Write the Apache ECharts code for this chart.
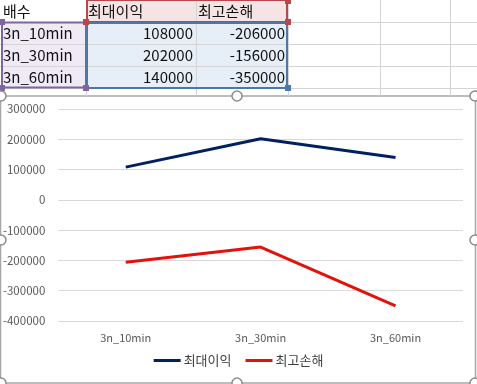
<!DOCTYPE html>
<html><head><meta charset="utf-8">
<script src="https://cdn.jsdelivr.net/npm/echarts@6/dist/echarts.min.js"></script>
<style>html,body{margin:0;padding:0;background:#fff}#c{width:477px;height:384px}</style>
</head><body><div id="c"></div>
<script>
const headerLabel = '배수';
const categories = ['3n_10min', '3n_30min', '3n_60min'];
const seriesNames = ['최대이익', '최고손해'];
const maxProfit = [108000, 202000, 140000];
const maxLoss = [-206000, -156000, -350000];
const yTicks = [-400000, -300000, -200000, -100000, 0, 100000, 200000, 300000];

const FONT = '"Noto Sans CJK KR", "Noto Sans", sans-serif';
const colX = [0, 86, 196, 288, 380, 450, 520];
const rowY = [0, 22, 44, 66, 88];
const g = [];
// cell fills
g.push({type:'rect', shape:{x:86,y:0,width:202,height:22}, style:{fill:'#f6e4e4'}});
g.push({type:'rect', shape:{x:2,y:22,width:84,height:66}, style:{fill:'#efeaf5'}});
g.push({type:'rect', shape:{x:86,y:22,width:202,height:66}, style:{fill:'#e6eef8'}});
// grid lines
for (let i = 1; i < rowY.length; i++) g.push({type:'line', shape:{x1:0,y1:rowY[i]+0.5,x2:477,y2:rowY[i]+0.5}, style:{stroke:'#d4d4d4',lineWidth:1}});
for (let i = 1; i < colX.length; i++) g.push({type:'line', shape:{x1:colX[i]+0.5,y1:0,x2:colX[i]+0.5,y2:96}, style:{stroke:'#d4d4d4',lineWidth:1}});
// text
const rows = [[headerLabel, seriesNames[0], seriesNames[1]]].concat(categories.map((c,i)=>[c, String(maxProfit[i]), String(maxLoss[i])]));
rows.forEach((r, ri) => {
  const cy = rowY[ri] + 11;
  g.push({type:'text', style:{text:r[0], x:3, y:cy, verticalAlign:'middle', font:'15px '+FONT, fill:'#111'}});
  if (ri === 0) {
    g.push({type:'text', style:{text:r[1], x:88, y:cy, verticalAlign:'middle', font:'15px '+FONT, fill:'#111'}});
    g.push({type:'text', style:{text:r[2], x:198, y:cy, verticalAlign:'middle', font:'15px '+FONT, fill:'#111'}});
  } else {
    g.push({type:'text', style:{text:r[1], x:193, y:cy, align:'right', verticalAlign:'middle', font:'15px '+FONT, fill:'#111'}});
    g.push({type:'text', style:{text:r[2], x:285, y:cy, align:'right', verticalAlign:'middle', font:'15px '+FONT, fill:'#111'}});
  }
});
// selection borders
g.push({type:'rect', shape:{x:87,y:0,width:200,height:22}, style:{fill:null, stroke:'#b8474c', lineWidth:2}});
g.push({type:'rect', shape:{x:2,y:22.5,width:84,height:65}, style:{fill:null, stroke:'#8064a2', lineWidth:2}});
g.push({type:'rect', shape:{x:87,y:23,width:200,height:65}, style:{fill:null, stroke:'#4f76a8', lineWidth:2}});
const sq = (x,y,c) => g.push({type:'rect', shape:{x:x-3,y:y-3,width:6,height:6}, style:{fill:c}});
sq(288,1,'#b8474c'); sq(288,22,'#b8474c'); sq(86,22,'#b8474c');
sq(2,22,'#8064a2'); sq(86,88,'#8064a2'); sq(2,88,'#8064a2');
sq(288,88,'#4f76a8');
// chart frame
g.push({type:'rect', shape:{x:0.5,y:96,width:475,height:287}, style:{fill:'#fff', stroke:'#a6a6a6', lineWidth:1.5}, z:-1});
const handle = (x,y) => g.push({type:'circle', shape:{cx:x,cy:y,r:5}, style:{fill:'#fff', stroke:'#8c8c8c', lineWidth:1.5}, z:100});
handle(1,96); handle(237,96); handle(475,96); handle(1,240); handle(475,240); handle(1,383); handle(237,383); handle(475,383);

const chart = echarts.init(document.getElementById('c'), null, {renderer:'canvas'});
chart.setOption({
  animation:false,
  backgroundColor:'#fff',
  graphic: g,
  grid:{left:58, right:14, top:109, bottom:63, containLabel:false},
  xAxis:{type:'category', data:categories, boundaryGap:true,
    axisLine:{show:false}, axisTick:{show:false},
    axisLabel:{color:'#595959', fontSize:11, fontFamily:FONT, margin:11}},
  yAxis:{type:'value', min:yTicks[0], max:yTicks[yTicks.length-1], interval:100000,
    axisLine:{show:false}, axisTick:{show:false},
    axisLabel:{color:'#595959', fontSize:11.5, fontFamily:FONT, margin:13, formatter:v=>String(v)},
    splitLine:{lineStyle:{color:'#d9d9d9', width:1}}},
  legend:{bottom:12, left:'center', itemWidth:27, itemHeight:3, itemGap:14,
    textStyle:{color:'#404040', fontSize:13, fontFamily:FONT, padding:[0,0,0,-2]},
    data:seriesNames.map(n=>({name:n, icon:'rect'}))},
  series:[
    {name:seriesNames[0], type:'line', data:maxProfit, symbol:'none', lineStyle:{color:'#002060', width:3}, itemStyle:{color:'#002060'}},
    {name:seriesNames[1], type:'line', data:maxLoss, symbol:'none', lineStyle:{color:'#e3120b', width:3}, itemStyle:{color:'#e3120b'}}
  ]
});
</script></body></html>
